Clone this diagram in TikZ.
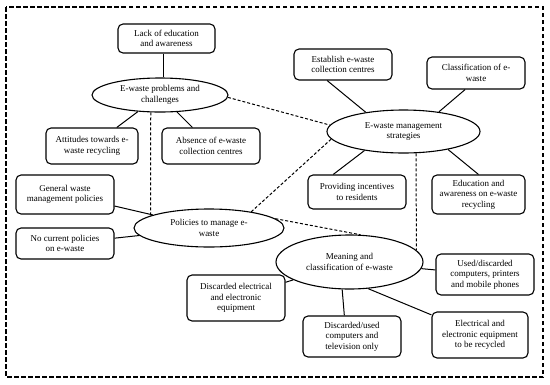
\documentclass[tikz,border=0pt]{standalone}
\usepackage{fontspec}
\setmainfont{Liberation Serif}
\usetikzlibrary{shapes.geometric,calc}
\begin{document}
\begin{tikzpicture}[x=1pt,y=-1pt,
  every node/.style={font=\fontsize{9}{10.5}\selectfont, align=center},
  rbox/.style={draw, line width=1.1pt, rounded corners=5pt, inner sep=0pt},
  ell/.style={draw, ellipse, line width=1.1pt, inner sep=0pt},
  link/.style={line width=1pt},
  dlink/.style={line width=1pt, dash pattern=on 3pt off 2pt}]
\useasboundingbox (0,0) rectangle (550,384);
\draw[line width=1.5pt, dash pattern=on 4.5pt off 2.5pt] (6,7) rectangle (543,377);

% boxes
\node[rbox, minimum width=97pt, minimum height=29pt] (lack) at (166.5,38.5) {Lack of education\\and awareness};
\node[rbox, minimum width=92pt, minimum height=36pt] (att) at (92,146) {Attitudes towards e-\\waste recycling};
\node[rbox, minimum width=98pt, minimum height=36pt] (abs) at (211,146) {Absence of e-waste\\collection centres};
\node[rbox, minimum width=98pt, minimum height=39pt] (gen) at (65,194.5) {General waste\\management policies};
\node[rbox, minimum width=98pt, minimum height=31pt] (noc) at (65,243.5) {No current policies\\on e-waste};
\node[rbox, minimum width=98pt, minimum height=31pt] (est) at (343,64.5) {Establish e-waste\\collection centres};
\node[rbox, minimum width=98pt, minimum height=32pt] (cla) at (476,73) {Classification of e-\\waste};
\node[rbox, minimum width=98pt, minimum height=34pt] (pro) at (357,192) {Providing incentives\\to residents};
\node[rbox, minimum width=93pt, minimum height=39pt] (edu) at (478.5,194.5) {Education and\\awareness on e-waste\\recycling};
\node[rbox, minimum width=98pt, minimum height=41pt] (usd) at (485,274.5) {Used/discarded\\computers, printers\\and mobile phones};
\node[rbox, minimum width=98pt, minimum height=46pt] (dee) at (236,298) {Discarded electrical\\and electronic\\equipment};
\node[rbox, minimum width=98pt, minimum height=41pt] (duc) at (352,336.5) {Discarded/used\\computers and\\television only};
\node[rbox, minimum width=96pt, minimum height=46pt] (eer) at (480,335) {Electrical and\\electronic equipment\\to be recycled};

% ellipses
\node[ell, minimum width=136pt, minimum height=34pt] (prob) at (160,95) {E-waste problems and\\challenges};
\node[ell, minimum width=153pt, minimum height=43pt] (mgmt) at (403.5,131.5) {E-waste management\\strategies};
\node[ell, minimum width=150pt, minimum height=38pt] (pol) at (209,228) {Policies to manage e-\\waste};
\node[ell, minimum width=147pt, minimum height=54pt] (mean) at (349.5,262) {Meaning and\\classification of e-waste};

% solid links
\coordinate (lx) at (163,0);
\draw[link] (lack.south -| lx) -- (prob.north -| lx);
\draw[link] (prob) -- (att);
\draw[link] (prob) -- (abs);
\draw[link] (mgmt.153) -- ($(est.south west)!0.34!(est.south east)$);
\draw[link] (mgmt.29) -- ($(cla.south west)!0.39!(cla.south east)$);
\draw[link] (mgmt.206) -- ($(pro.north west)!0.26!(pro.north east)$);
\draw[link] (mgmt.338) -- (edu.north);
\draw[link] (pol) -- (gen);
\draw[link] (pol) -- (noc);
\draw[link] (mean) -- (dee);
\draw[link] (mean.255) -- (duc.110);
\draw[link] (mean.305) -- (eer);
\draw[link] (mean) -- (usd);

% dashed links
\draw[dlink] (prob.358) -- (mgmt.175);
\draw[dlink] (prob.242) -- (pol.168);
\draw[dlink] (pol.21) -- (mgmt.186);
\draw[dlink] (pol.8) -- (mean.68);
\draw[dlink] (mgmt.300) -- (mean.10);
\end{tikzpicture}
\end{document}
